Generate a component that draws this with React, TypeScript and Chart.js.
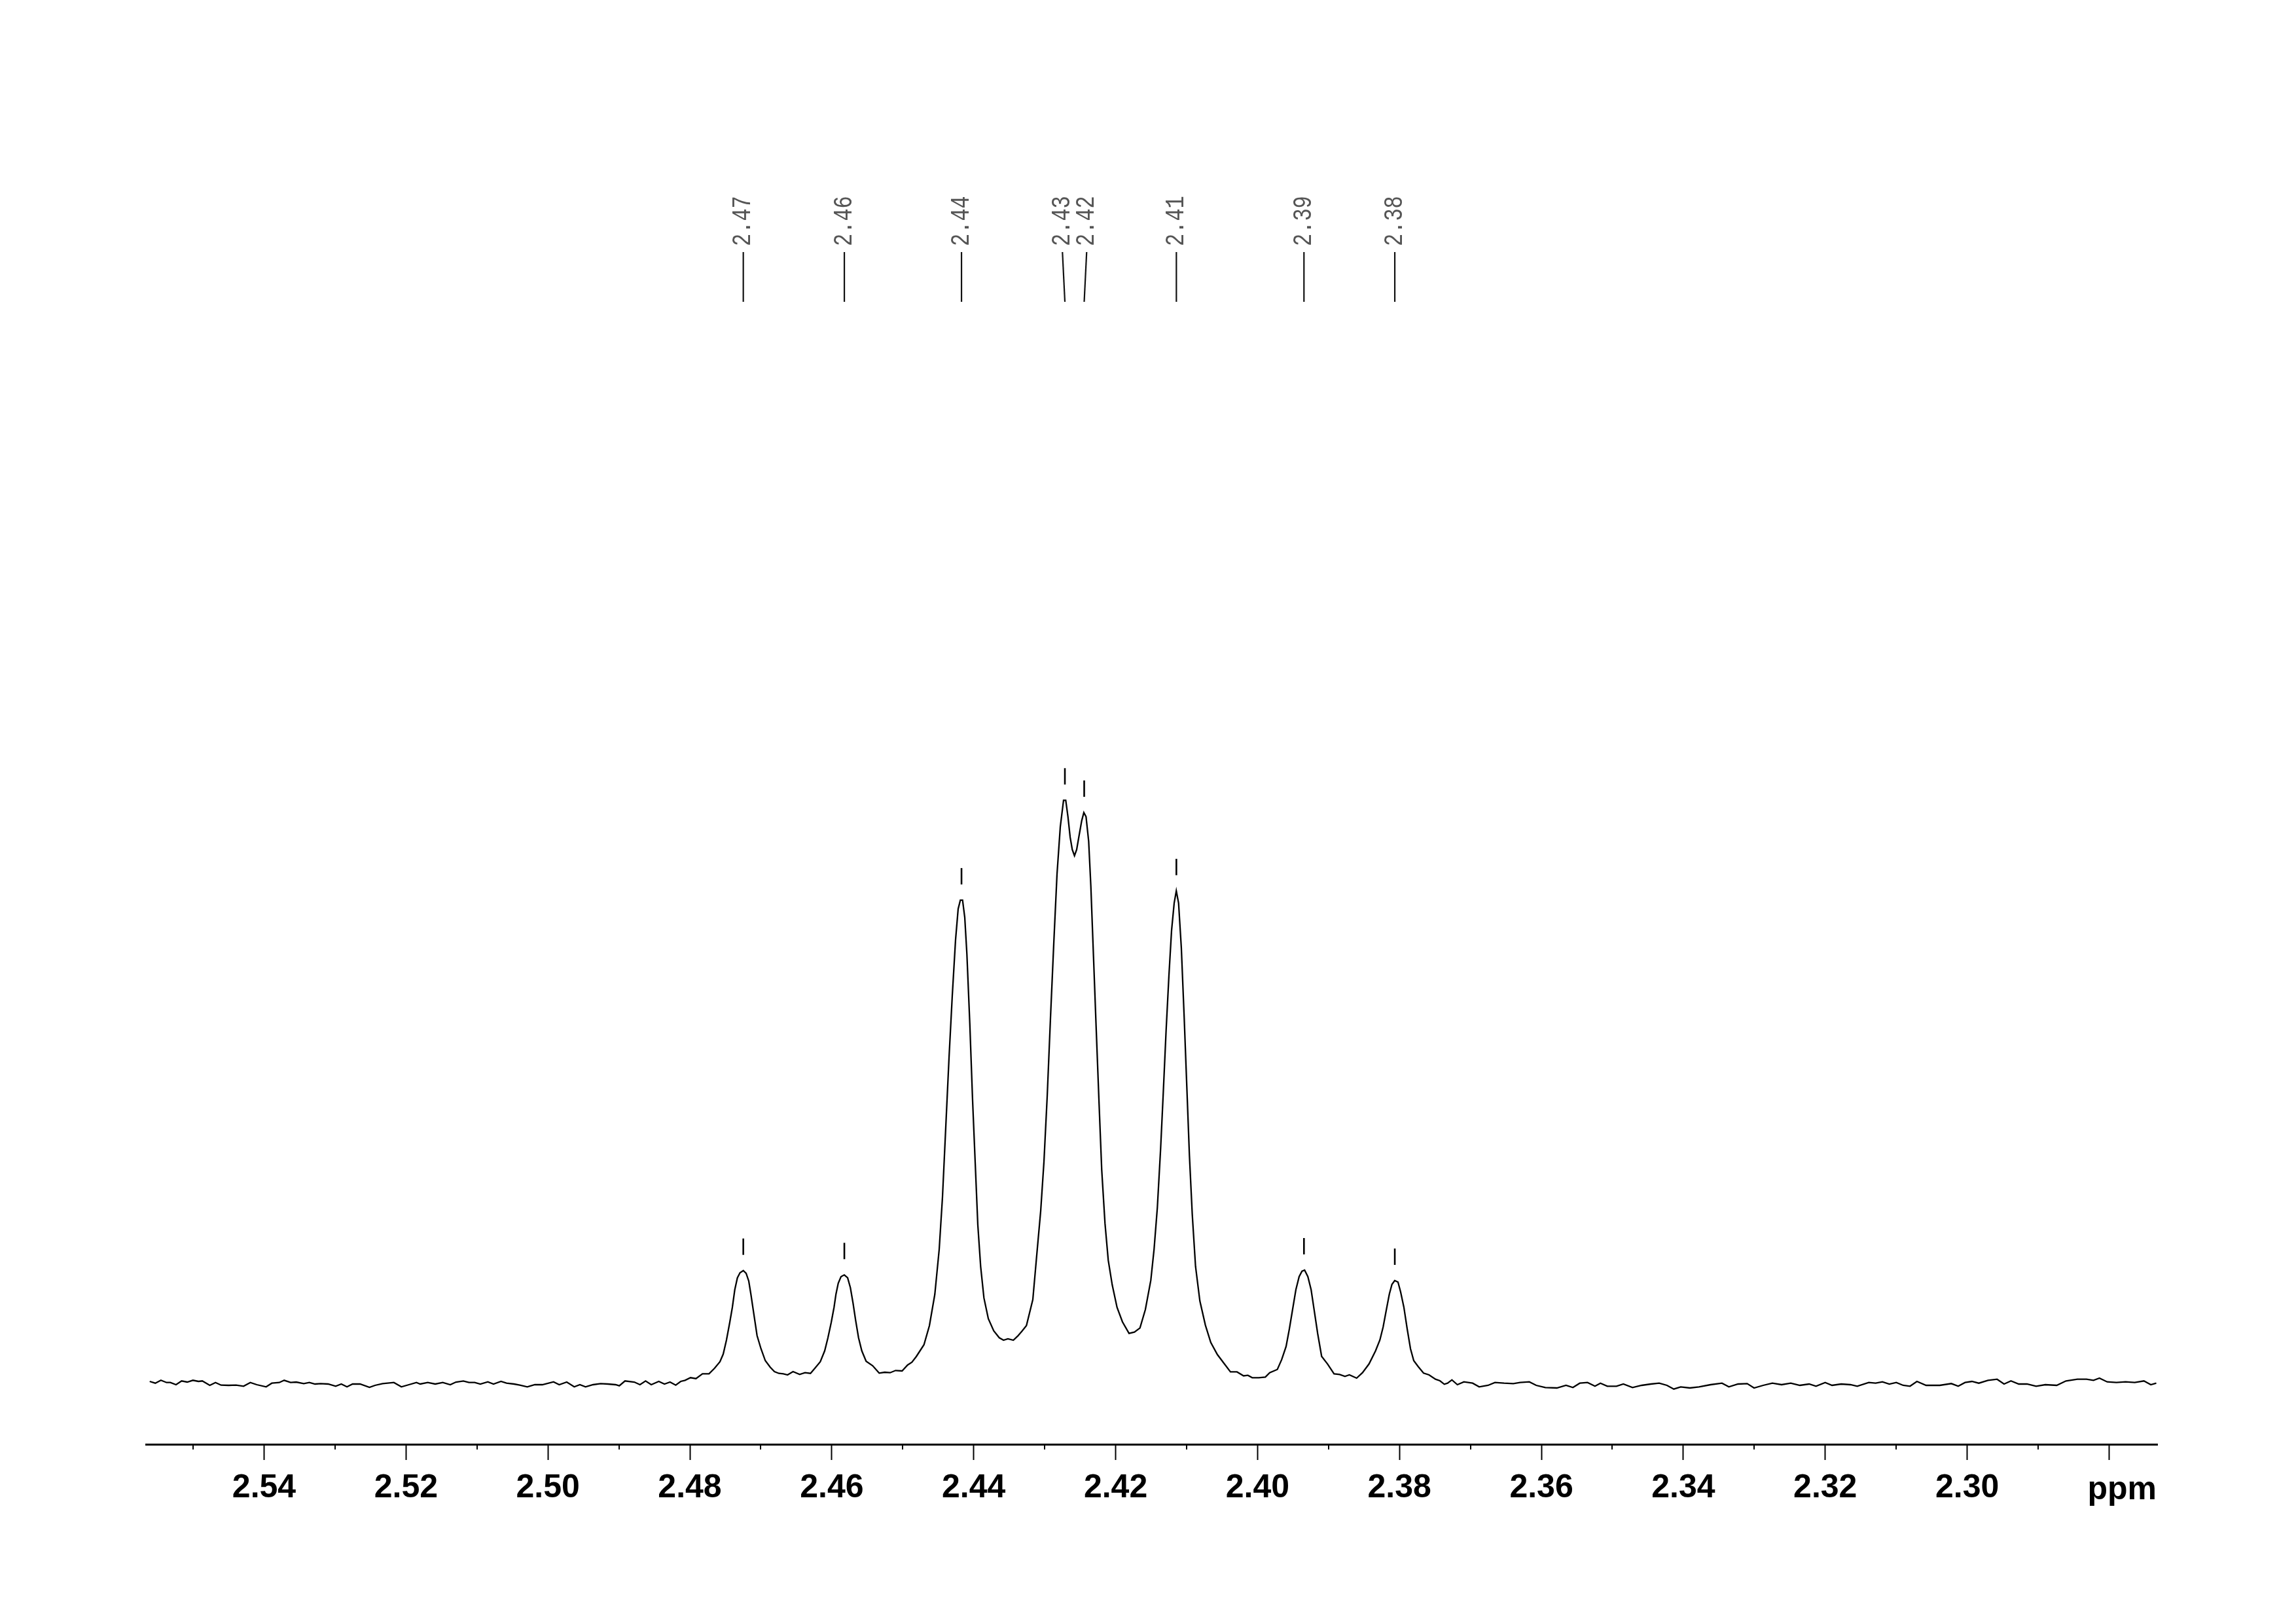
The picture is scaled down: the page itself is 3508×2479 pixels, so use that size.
import React, { useEffect, useRef } from 'react';
import { Chart, registerables } from 'chart.js';

Chart.register(...registerables);

// Chemical shift (ppm) of each trace point
const spectrumPpm = [
  2.55612, 2.55533, 2.55454, 2.55374, 2.55321, 2.55241, 2.55162, 2.55083, 2.55003, 2.54924,
  2.54871, 2.54765, 2.54685, 2.54606, 2.545, 2.54395, 2.54289, 2.54194, 2.54103, 2.53971,
  2.53891, 2.53786, 2.53717, 2.53626, 2.53547, 2.53441, 2.53362, 2.53282, 2.53203, 2.53097,
  2.52991, 2.52912, 2.52832, 2.52753, 2.52647, 2.52515, 2.52436, 2.5233, 2.52171, 2.52065,
  2.51959, 2.51853, 2.518, 2.51694, 2.51588, 2.51482, 2.51376, 2.51297, 2.51192, 2.51112,
  2.51032, 2.50953, 2.50847, 2.50767, 2.50662, 2.50583, 2.50477, 2.50397, 2.50291, 2.50185,
  2.50079, 2.49921, 2.49841, 2.49735, 2.49629, 2.4955, 2.4947, 2.49364, 2.49258, 2.49153,
  2.49047, 2.48994, 2.48914, 2.48782, 2.48703, 2.48624, 2.48544, 2.48438, 2.48358, 2.48279,
  2.48199,
  2.48129, 2.48068, 2.47991, 2.47914, 2.47822, 2.4773, 2.47653, 2.47576, 2.4753,
  2.47484, 2.47438, 2.47401, 2.47367, 2.4733, 2.47293, 2.47247, 2.47207, 2.4717, 2.4714,
  2.47099, 2.47053, 2.46998, 2.46937, 2.46868, 2.46808, 2.46746, 2.46684, 2.46623, 2.46546,
  2.46453, 2.46377, 2.463, 2.46239, 2.46162, 2.461, 2.46054, 2.46008, 2.45968, 2.45941,
  2.45909, 2.4587, 2.45824, 2.45777, 2.45738, 2.45701, 2.45664, 2.45623, 2.45577, 2.45516,
  2.45424, 2.45332, 2.45254, 2.45178, 2.45101, 2.45009, 2.44932, 2.44871, 2.44809,
  2.44701, 2.44624, 2.44548, 2.44486, 2.4444, 2.44394, 2.44348, 2.44302, 2.44256, 2.44219,
  2.44188, 2.44157, 2.44126, 2.44096, 2.44055, 2.44016, 2.43979, 2.43942, 2.43902, 2.43856,
  2.43794, 2.43718, 2.4364, 2.4358, 2.43518, 2.43441, 2.43379, 2.43318, 2.43257,
  2.43167, 2.43118, 2.43056, 2.4301, 2.42964, 2.42918, 2.42872, 2.42826, 2.4278, 2.42734,
  2.42703, 2.42672, 2.42641, 2.42611, 2.4258, 2.42549, 2.42519, 2.42478, 2.42448, 2.42417,
  2.4238, 2.42349, 2.42312, 2.42273, 2.42233, 2.42196, 2.4215, 2.42104, 2.42048, 2.4198,
  2.41904, 2.41811, 2.41735, 2.41657, 2.41581,
  2.41504, 2.41458, 2.41412, 2.41366, 2.41329, 2.41289, 2.41249, 2.41212, 2.41175, 2.41145,
  2.41113, 2.41074, 2.41034, 2.40997, 2.4096, 2.4092, 2.40874, 2.40813, 2.40735, 2.40659,
  2.40566, 2.40474, 2.40382, 2.4029,
  2.40197, 2.40136, 2.40075, 2.39983, 2.3989, 2.39829, 2.39721, 2.3966, 2.39598, 2.39552,
  2.39506, 2.3946, 2.39414, 2.39374, 2.39337, 2.39291, 2.39245, 2.39199, 2.39153, 2.39097,
  2.39014, 2.38922, 2.38844, 2.38768, 2.38706, 2.38604, 2.38521, 2.38429, 2.38337, 2.38276,
  2.3823, 2.38184, 2.38143, 2.38106, 2.38067, 2.38021, 2.37984, 2.37938, 2.37891, 2.37845,
  2.37799, 2.37737, 2.37661, 2.37584, 2.37492, 2.3743, 2.37368, 2.37322, 2.37261, 2.37184,
  2.37092, 2.36969, 2.36877,
  2.36751, 2.36655, 2.36526, 2.36396, 2.363, 2.3617, 2.36073, 2.35944, 2.35782, 2.35653,
  2.35556, 2.35459, 2.3535, 2.35245, 2.35168, 2.35071, 2.34942, 2.34845, 2.34716, 2.34587,
  2.34457, 2.3434, 2.34231, 2.34134, 2.34037, 2.33908, 2.33779, 2.33616, 2.33455, 2.33358,
  2.33229, 2.331, 2.33003, 2.32874, 2.32745, 2.32615, 2.32486, 2.32357, 2.32227, 2.3213,
  2.32001, 2.31904, 2.31775, 2.31645, 2.31549, 2.31387, 2.3129, 2.31194, 2.31097, 2.30999,
  2.30902, 2.30805, 2.30708, 2.30579, 2.30386, 2.30223, 2.30126, 2.3003, 2.29933, 2.29836,
  2.29707, 2.29578, 2.2948, 2.29383, 2.29273, 2.29157, 2.29028, 2.28899, 2.28738, 2.28608,
  2.28447, 2.28318, 2.2822, 2.28136, 2.28027, 2.27897, 2.27768, 2.27639, 2.27509, 2.27412,
  2.27335,
];

// Signal intensity (arbitrary units) at each point above
const spectrumIntensity = [
  0.5, 0.23, 0.67, 0.33, 0.33, 0, 0.57, 0.4, 0.67, 0.5,
  0.57, -0.1, 0.33, -0.07, -0.1, -0.07, -0.23, 0.33, 0, -0.33,
  0.23, 0.33, 0.67, 0.33, 0.4, 0.17, 0.33, 0.1, 0.17, 0.1,
  -0.23, 0.1, -0.33, 0.1, 0.1, -0.4, -0.1, 0.17, 0.33, -0.33,
  0, 0.33, 0.1, 0.33, 0.1, 0.33, 0, 0.4, 0.57, 0.33,
  0.33, 0.1, 0.43, 0.1, 0.5, 0.23, 0.1, -0.07, -0.33, 0,
  0, 0.43, 0, 0.4, -0.33, 0, -0.33, 0, 0.17, 0.1,
  0, -0.17, 0.57, 0.4, 0, 0.57, 0, 0.5, 0.1, 0.4,
  -0.07,
  0.5, 0.67, 1.07, 0.93, 1.67, 1.67, 2.5, 3.5, 4.67,
  6.83, 9.5, 11.83, 14.5, 16.33, 17.1, 17.43, 17.0, 15.83, 13.83,
  10.83, 7.5, 5.5, 3.67, 2.67, 2.0, 1.73, 1.67, 1.5, 2.0,
  1.57, 1.83, 1.73, 2.5, 3.5, 5.17, 7.17, 9.5, 11.83, 13.83,
  15.5, 16.5, 16.77, 16.33, 14.83, 12.5, 9.83, 7.17, 5.17, 3.57,
  2.9, 1.77, 1.9, 1.83, 2.17, 2.1, 3.0, 3.43, 4.3,
  6.1, 9.02, 13.8, 20.7, 28.65, 39.26, 49.87, 59.42, 67.91, 72.68,
  74.01, 74.01, 71.36, 65.78, 55.17, 43.5, 33.95, 24.4, 18.04, 13.26,
  10.08, 8.23, 7.17, 6.8, 7.0, 6.8, 7.43, 8.2, 9.02,
  13.0, 19.01, 26.54, 34.06, 44.1, 56.02, 67.31, 77.98, 85.19, 89.27,
  89.27, 86.76, 83.63, 81.74, 80.8, 81.74, 83.63, 86.14, 87.39, 86.76,
  83.0, 76.1, 65.43, 54.14, 42.85, 32.81, 24.66, 19.01, 15.24, 11.8,
  9.6, 7.84, 8.03, 8.66, 11.48,
  15.96, 20.72, 27.06, 36.05, 44.5, 54.02, 62.47, 69.34, 73.57, 75.42,
  73.57, 66.7, 56.13, 45.56, 34.99, 26.0, 18.08, 12.79, 9.09, 6.45,
  4.6, 3.28, 1.96, 1.96,
  1.35, 1.43, 1.07, 1.07, 1.17, 1.83, 2.33, 3.83, 5.83, 8.5,
  11.5, 14.5, 16.5, 17.33, 17.5, 16.5, 14.5, 11.17, 7.83, 4.33,
  3.17, 1.67, 1.57, 1.27, 1.5, 1.0, 1.83, 3.17, 5.17, 6.83,
  8.83, 11.5, 13.83, 15.33, 15.9, 15.67, 14.17, 11.83, 8.5, 5.5,
  3.67, 2.77, 1.77, 1.5, 0.83, 0.6, 0.07, 0.23, 0.73, 0,
  0.43, 0.23, -0.33,
  -0.1, 0.33, 0.23, 0.17, 0.33, 0.43, -0.1, -0.43, -0.5, -0.1,
  -0.43, 0.23, 0.33, -0.23, 0.23, -0.23, -0.23, 0.1, -0.43, -0.1,
  0.1, 0.23, -0.1, -0.67, -0.33, -0.5, -0.33, 0, 0.23, -0.33,
  0.1, 0.17, -0.5, -0.1, 0.23, 0, 0.23, -0.1, 0.1, -0.23,
  0.33, -0.1, 0.1, 0, -0.23, 0.33, 0.23, 0.43, 0.1, 0.33,
  -0.1, -0.23, 0.5, -0.1, -0.1, 0.17, -0.23, 0.33, 0.5, 0.23,
  0.67, 0.83, 0.1, 0.57, 0.1, 0.1, -0.23, 0, -0.1, 0.57,
  0.83, 0.83, 0.67, 1.0, 0.43, 0.33, 0.43, 0.33, 0.57, 0,
  0.23,
];

// Picked peaks
const peakPpm = [2.47247, 2.45823, 2.44172, 2.42715, 2.42443, 2.41144, 2.39346, 2.38066];
const peakHeights = [17.43, 16.77, 74.01, 89.27, 87.39, 75.42, 17.5, 15.9];
const peakLabels = ['2.47', '2.46', '2.44', '2.43', '2.42', '2.41', '2.39', '2.38'];

// Axis ticks
const majorTicks = [2.54, 2.52, 2.5, 2.48, 2.46, 2.44, 2.42, 2.4, 2.38, 2.36, 2.34, 2.32, 2.3, 2.28];
const majorTickLabels = ['2.54', '2.52', '2.50', '2.48', '2.46', '2.44', '2.42', '2.40', '2.38', '2.36', '2.34', '2.32', '2.30', ''];
const minorTicks = [2.55, 2.53, 2.51, 2.49, 2.47, 2.45, 2.43, 2.41, 2.39, 2.37, 2.35, 2.33, 2.31, 2.29];
const axisUnit = 'ppm';

const X_MIN = 2.273214;
const X_MAX = 2.556648;
const Y_MIN = -9.1;
const Y_MAX = 100;

const W = 3508;
const H = 2479;

function spreadLabels(px: number[], gap: number): number[] {
  const order = px.map((_, i) => i).sort((a, b) => px[a] - px[b]);
  const groups: number[][] = [];
  order.forEach((i) => {
    const g = groups[groups.length - 1];
    if (g && px[i] - px[g[g.length - 1]] < gap) g.push(i);
    else groups.push([i]);
  });
  const out = px.slice();
  groups.forEach((g) => {
    if (g.length > 1) {
      const mean = g.reduce((s, i) => s + px[i], 0) / g.length;
      g.forEach((i, k) => {
        out[i] = mean + (k - (g.length - 1) / 2) * gap;
      });
    }
  });
  return out;
}

const nmrDecor = {
  id: 'nmrDecor',
  afterDraw(chart: any) {
    const { ctx, chartArea } = chart;
    const xs = chart.scales.x;
    const ys = chart.scales.y;
    ctx.save();

    // minor ticks
    ctx.strokeStyle = '#000';
    ctx.lineWidth = 2;
    minorTicks.forEach((v) => {
      const px = Math.round(xs.getPixelForValue(v));
      ctx.beginPath();
      ctx.moveTo(px, chartArea.bottom);
      ctx.lineTo(px, chartArea.bottom + 8);
      ctx.stroke();
    });

    // unit label
    ctx.fillStyle = '#000';
    ctx.font = 'bold 50px "Liberation Sans", Arial, sans-serif';
    ctx.textAlign = 'right';
    ctx.textBaseline = 'alphabetic';
    ctx.fillText(axisUnit, chartArea.right - 1, chartArea.bottom + 84);

    // peak markers above each picked peak
    ctx.lineWidth = 2.6;
    peakPpm.forEach((p, i) => {
      const px = xs.getPixelForValue(p);
      const py = ys.getPixelForValue(peakHeights[i]);
      ctx.beginPath();
      ctx.moveTo(px, py - 49);
      ctx.lineTo(px, py - 24);
      ctx.stroke();
    });

    // top peak labels
    const peakPx = peakPpm.map((p) => xs.getPixelForValue(p));
    const labelPx = spreadLabels(peakPx, 37);
    ctx.lineWidth = 2.2;
    ctx.strokeStyle = '#111';
    peakPx.forEach((px, i) => {
      ctx.beginPath();
      ctx.moveTo(labelPx[i], 385);
      ctx.lineTo(px, 461);
      ctx.stroke();
    });
    ctx.fillStyle = '#555';
    ctx.font = '40px "Liberation Mono", "DejaVu Sans Mono", monospace';
    ctx.textAlign = 'left';
    ctx.textBaseline = 'middle';
    peakLabels.forEach((t, i) => {
      ctx.save();
      ctx.translate(labelPx[i], 376);
      ctx.rotate(-Math.PI / 2);
      ctx.scale(0.8, 1);
      ctx.fillText(t, 0, 0);
      ctx.restore();
    });

    ctx.restore();
  },
};

export default function App() {
  const canvasRef = useRef<HTMLCanvasElement | null>(null);

  useEffect(() => {
    const canvas = canvasRef.current;
    if (!canvas) return;
    const data = spectrumPpm.map((p, i) => ({ x: p, y: spectrumIntensity[i] }));
    const chart = new Chart(canvas, {
      type: 'line',
      data: {
        datasets: [
          {
            data,
            borderColor: '#000',
            borderWidth: 2.3,
            pointRadius: 0,
            tension: 0,
            fill: false,
          },
        ],
      },
      options: {
        animation: false,
        responsive: false,
        devicePixelRatio: 1,
        layout: { padding: { left: 223, right: W - 3296, top: 1115, bottom: 0 } },
        plugins: { legend: { display: false }, tooltip: { enabled: false } },
        scales: {
          x: {
            type: 'linear',
            reverse: true,
            min: X_MIN,
            max: X_MAX,
            afterBuildTicks: (scale: any) => {
              scale.ticks = majorTicks.map((v) => ({ value: v }));
            },
            afterFit: (scale: any) => {
              scale.height = H - 2206;
            },
            grid: {
              drawOnChartArea: false,
              drawTicks: true,
              tickLength: 24,
              tickWidth: 2,
              tickColor: '#000',
            },
            border: { display: true, color: '#000', width: 3 },
            ticks: {
              autoSkip: false,
              maxRotation: 0,
              minRotation: 0,
              padding: 13,
              color: '#000',
              font: { family: '"Liberation Sans", Arial, sans-serif', size: 50, weight: 'bold' },
              callback: (v: any) => {
                const i = majorTicks.findIndex((t) => Math.abs(t - Number(v)) < 1e-6);
                return i >= 0 ? majorTickLabels[i] : '';
              },
            },
          },
          y: {
            type: 'linear',
            display: false,
            min: Y_MIN,
            max: Y_MAX,
          },
        },
      },
      plugins: [nmrDecor],
    } as any);
    return () => chart.destroy();
  }, []);

  return (
    <div style={{ position: 'absolute', left: 0, top: 0, width: W, height: H, background: '#fff' }}>
      <canvas ref={canvasRef} width={W} height={H} style={{ display: 'block' }} />
    </div>
  );
}
